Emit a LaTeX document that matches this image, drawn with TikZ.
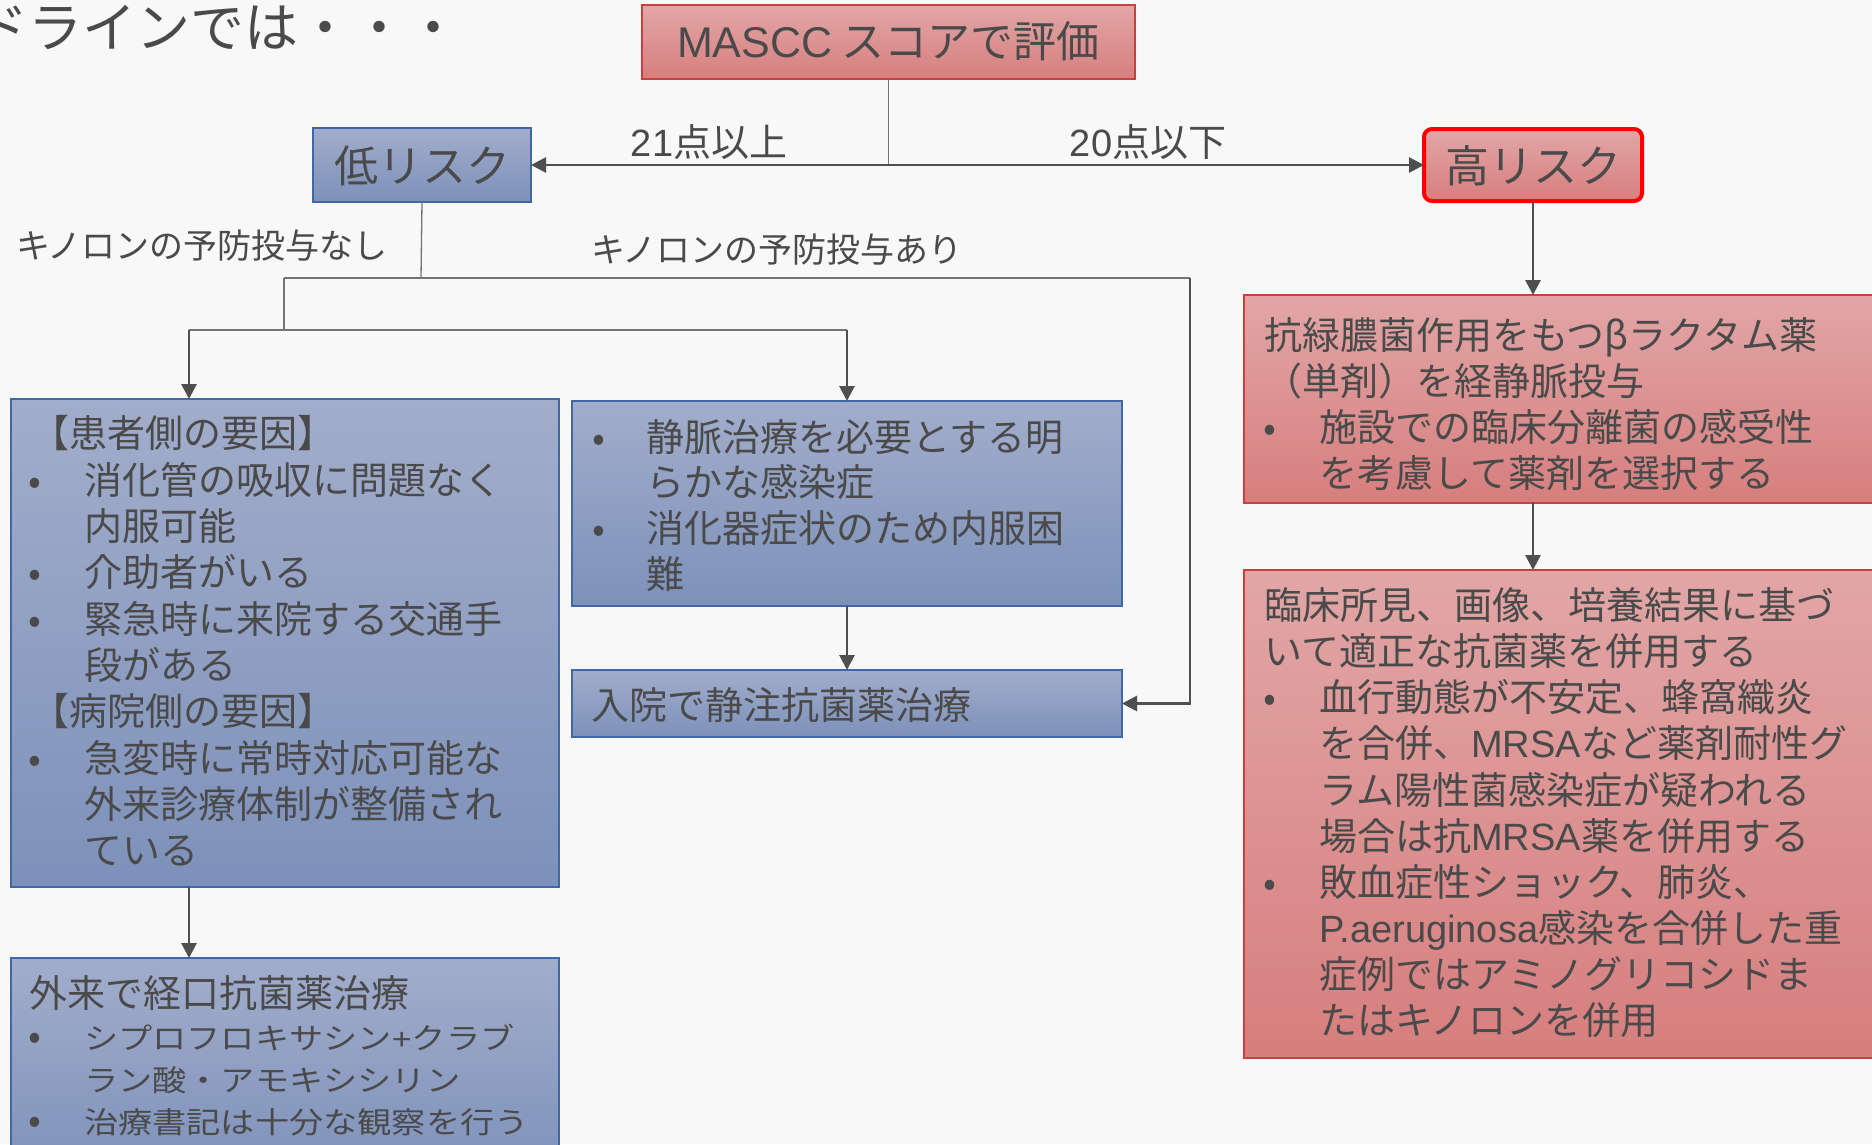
\documentclass[tikz,border=0pt]{standalone}
\usepackage{fontspec}
\usepackage{graphicx}
\setmainfont{Noto Sans CJK JP}
\newfontfamily\lat{Liberation Sans}
\usetikzlibrary{arrows.meta}
\definecolor{bg}{HTML}{F8F8F8}
\definecolor{txt}{HTML}{4A4A4A}
\definecolor{bluetop}{HTML}{A2ADCB}
\definecolor{bluebot}{HTML}{7D91BA}
\definecolor{blueline}{HTML}{4068A6}
\definecolor{redtop}{HTML}{E2A6A6}
\definecolor{redbot}{HTML}{D77E7E}
\definecolor{redline}{HTML}{C84040}
\definecolor{thinc}{HTML}{747474}
\definecolor{thickc}{HTML}{4F4F4F}
\newcommand{\fs}[2]{\fontsize{#1}{#2}\selectfont}
\newcommand{\bul}[1]{\makebox[30pt][c]{•}\hspace*{#1}}
\newcommand{\fst}{\rule{0pt}{40pt}}
\newcommand{\sq}[1]{\scalebox{0.9}[0.78]{#1}}
\setlength{\lineskiplimit}{-100pt}
\begin{document}
\begin{tikzpicture}[x=1pt,y=-1pt,
 box/.style={anchor=north west, inner sep=0pt, outer sep=0pt, line width=1.3pt},
 bluebox/.style={box, draw=blueline, top color=bluetop, bottom color=bluebot},
 redbox/.style={box, draw=redline, top color=redtop, bottom color=redbot},
 btxt/.style={anchor=north west, inner sep=0pt, text width=#1, align=left, text=txt},
 lbl/.style={inner sep=0pt, text=txt},
 thinline/.style={draw=thinc, line width=1.3pt},
 arr/.style={draw=thickc, line width=2.8pt, -{Triangle[width=15pt,length=15pt]}},
]
\useasboundingbox (0,0) rectangle (1872,1144);
\fill[bg] (0,0) rectangle (1872,1144);
\begin{scope}
\clip (0,0) rectangle (1872,1144);
% title
\node[lbl, anchor=base west, font=\fs{54}{60}, text=txt] (title) at (-26,47) {ドラインでは・・・};
% boxes
\node[redbox, minimum width=493pt, minimum height=74pt] (mascc) at (642,5) {};
\node[lbl, anchor=base, font=\fs{43}{48}] (masccT) at (mascc.center |- 0,57) {{\lat MASCC} スコアで評価};
\node[bluebox, minimum width=218pt, minimum height=74pt] (low) at (313,128) {};
\node[lbl, anchor=base, font=\fs{44}{50}] (lowT) at (low.center |- 0,182) {低リスク};
\node[redbox, draw=red, line width=4pt, rounded corners=8pt, minimum width=218pt, minimum height=72pt] (high) at (1424,129) {};
\node[lbl, anchor=base, font=\fs{44}{50}] (highT) at (high.center |- 0,182) {高リスク};
% labels
\node[lbl, anchor=base, font=\fs{38}{44}] (l21) at (709,156) {{\lat 21}点以上};
\node[lbl, anchor=base, font=\fs{38}{44}] (l20) at (1148,156) {{\lat 20}点以下};
\node[lbl, anchor=base west, font=\fs{34}{40}] (lnas) at (16,258) {キノロンの予防投与なし};
\node[lbl, anchor=base west, font=\fs{34}{40}] (lari) at (591,262) {キノロンの予防投与あり};
% left big box
\node[bluebox, minimum width=548pt, minimum height=488pt] (lb1) at (11,399) {};
\node[btxt=540pt, font=\fs{38}{46.3}] (lb1T) at (20,407.7) {\fst\hspace*{11pt}【患者側の要因】\\
\bul{34pt}消化管の吸収に問題なく\\
\hspace*{64pt}内服可能\\
\bul{34pt}介助者がいる\\
\bul{34pt}緊急時に来院する交通手\\
\hspace*{64pt}段がある\\
\hspace*{11pt}【病院側の要因】\\
\bul{34pt}急変時に常時対応可能な\\
\hspace*{64pt}外来診療体制が整備され\\
\hspace*{64pt}ている};
% middle boxes
\node[bluebox, minimum width=550pt, minimum height=205pt] (mb1) at (572,401) {};
\node[btxt=540pt, font=\fs{38}{45.6}] (mb1T) at (584,411) {\fst\bul{32pt}静脈治療を必要とする明\\
\hspace*{62pt}らかな感染症\\
\bul{32pt}消化器症状のため内服困\\
\hspace*{62pt}難};
\node[bluebox, minimum width=550pt, minimum height=67pt] (mb2) at (572,670) {};
\node[lbl, anchor=base west, font=\fs{38}{44}] (mb2T) at (591,719) {入院で静注抗菌薬治療};
% bottom left box
\node[bluebox, minimum width=548pt, minimum height=220pt] (lb2) at (11,958) {};
\node[btxt=540pt, font=\fs{38}{42}] (lb2T) at (20,967) {\fst\hspace*{9pt}外来で経口抗菌薬治療\\
\bul{34pt}\sq{シプロフロキサシン{\lat +}クラブ}\\
\hspace*{64pt}\sq{ラン酸・アモキシシリン}\\
\bul{34pt}\sq{治療書記は十分な観察を行う}};
% right boxes
\node[redbox, minimum width=660pt, minimum height=208pt] (rb1) at (1244,295) {};
\node[btxt=640pt, font=\fs{38}{46}] (rb1T) at (1255,309.4) {\fst\hspace*{9pt}抗緑膿菌作用をもつβラクタム薬\\
\hspace*{9pt}（単剤）を経静脈投与\\
\bul{34pt}施設での臨床分離菌の感受性\\
\hspace*{64pt}を考慮して薬剤を選択する};
\node[redbox, minimum width=660pt, minimum height=488pt] (rb2) at (1244,570) {};
\node[btxt=640pt, font=\fs{38}{46.1}] (rb2T) at (1255,579.4) {\fst\hspace*{9pt}臨床所見、画像、培養結果に基づ\\
\hspace*{9pt}いて適正な抗菌薬を併用する\\
\bul{34pt}血行動態が不安定、蜂窩織炎\\
\hspace*{64pt}を合併、{\lat MRSA}など薬剤耐性グ\\
\hspace*{64pt}ラム陽性菌感染症が疑われる\\
\hspace*{64pt}場合は抗{\lat MRSA}薬を併用する\\
\bul{34pt}敗血症性ショック、肺炎、\\
\hspace*{64pt}{\lat P.aeruginosa}感染を合併した重\\
\hspace*{64pt}症例ではアミノグリコシドま\\
\hspace*{64pt}たはキノロンを併用};
% connectors
\coordinate (split) at (mascc.south |- low.east);
\draw[thinline] (mascc.south) -- (split);
\draw[arr] (split) -- (low.east);
\draw[arr] (split) -- (high.west);
\coordinate (j1) at (421,278);
\coordinate (jl) at (284,278);
\coordinate (jr) at (1190,278);
\coordinate (jd) at (284,330);
\coordinate (ka) at (189,330);
\coordinate (kb) at (847,330);
\draw[thinline] (low.south) -- (j1);
\draw[thinline] (jl) -- (jr);
\draw[arr] (jr) -- (jr |- mb2.east) -- (mb2.east);
\draw[thinline] (jl) -- (jd);
\draw[thinline] (ka) -- (kb);
\draw[arr] (ka) -- (ka |- lb1.north);
\draw[arr] (kb) -- (mb1.north);
\draw[arr] (mb1.south) -- (mb2.north);
\draw[arr] (lb1.south -| ka) -- (lb2.north -| ka);
\draw[arr] (high.south) -- (high.south |- rb1.north);
\draw[arr] (rb1.south -| high.south) -- (rb2.north -| high.south);
\end{scope}
\end{tikzpicture}
\end{document}
